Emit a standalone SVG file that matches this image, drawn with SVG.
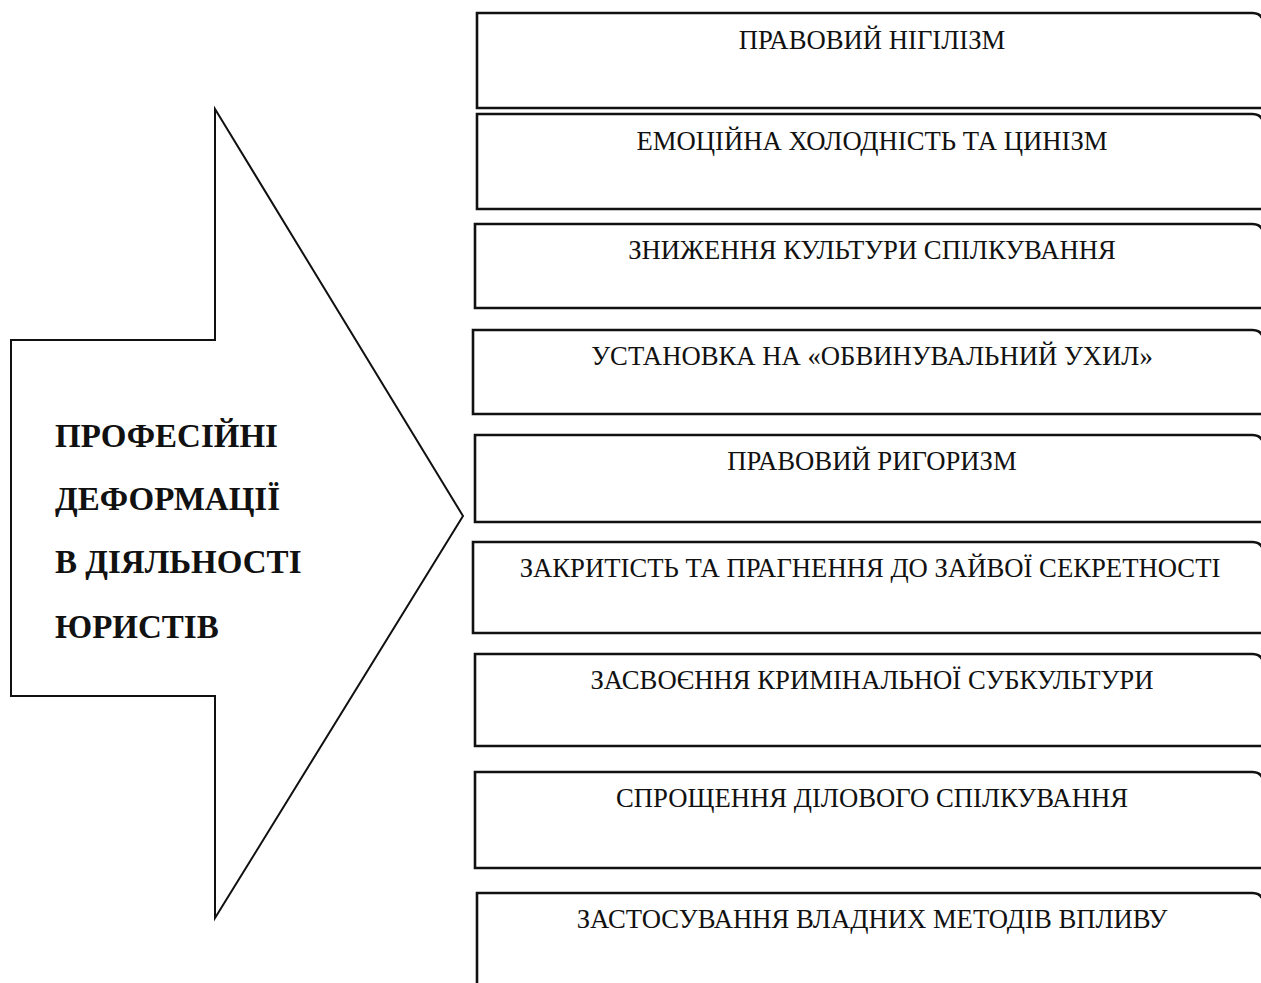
<svg xmlns="http://www.w3.org/2000/svg" width="1261" height="983" viewBox="0 0 1261 983">
<style>
.box{fill:#fff;stroke:#111;stroke-width:2.6;}
.arrow{fill:#fff;stroke:#111;stroke-width:2;stroke-linejoin:miter;}
.t{font-family:"Liberation Serif","Times New Roman",serif;font-size:26.7px;fill:#111;text-anchor:middle;}
.h{font-family:"Liberation Serif","Times New Roman",serif;font-size:33px;font-weight:bold;fill:#111;}
</style>
<rect width="1261" height="983" fill="#fff"/>
<g id="arrow">
<path class="arrow" d="M215,109 L463,516 L215,918 L215,696 L11,696 L11,340 L215,340 Z"/>
<text class="h" x="55" y="447">ПРОФЕСІЙНІ</text>
<text class="h" x="55" y="510">ДЕФОРМАЦІЇ</text>
<text class="h" x="55" y="573">В ДІЯЛЬНОСТІ</text>
<text class="h" x="55" y="638">ЮРИСТІВ</text>
</g>
<g id="connectors"></g>
<g id="n1"><path class="box" d="M477,13 H1252 Q1262,13 1264,23 V108 H477 Z"/><text class="t" x="872" y="49">ПРАВОВИЙ НІГІЛІЗМ</text></g>
<g id="n2"><path class="box" d="M477,114 H1252 Q1262,114 1264,124 V209 H477 Z"/><text class="t" x="872" y="150">ЕМОЦІЙНА ХОЛОДНІСТЬ ТА ЦИНІЗМ</text></g>
<g id="n3"><path class="box" d="M475,224 H1252 Q1262,224 1264,234 V308 H475 Z"/><text class="t" x="872" y="259">ЗНИЖЕННЯ КУЛЬТУРИ СПІЛКУВАННЯ</text></g>
<g id="n4"><path class="box" d="M473,330 H1252 Q1262,330 1264,340 V414 H473 Z"/><text class="t" x="872" y="365">УСТАНОВКА НА «ОБВИНУВАЛЬНИЙ УХИЛ»</text></g>
<g id="n5"><path class="box" d="M475,435 H1252 Q1262,435 1264,445 V522 H475 Z"/><text class="t" x="872" y="470">ПРАВОВИЙ РИГОРИЗМ</text></g>
<g id="n6"><path class="box" d="M473,542 H1252 Q1262,542 1264,552 V633 H473 Z"/><text class="t" x="870" y="577">ЗАКРИТІСТЬ ТА ПРАГНЕННЯ ДО ЗАЙВОЇ СЕКРЕТНОСТІ</text></g>
<g id="n7"><path class="box" d="M475,654 H1252 Q1262,654 1264,664 V746 H475 Z"/><text class="t" x="872" y="689">ЗАСВОЄННЯ КРИМІНАЛЬНОЇ СУБКУЛЬТУРИ</text></g>
<g id="n8"><path class="box" d="M475,772 H1252 Q1262,772 1264,782 V868 H475 Z"/><text class="t" x="872" y="807">СПРОЩЕННЯ ДІЛОВОГО СПІЛКУВАННЯ</text></g>
<g id="n9"><path class="box" d="M477,893 H1252 Q1262,893 1264,903 V990 H477 Z"/><text class="t" x="872" y="928">ЗАСТОСУВАННЯ ВЛАДНИХ МЕТОДІВ ВПЛИВУ</text></g>
</svg>
